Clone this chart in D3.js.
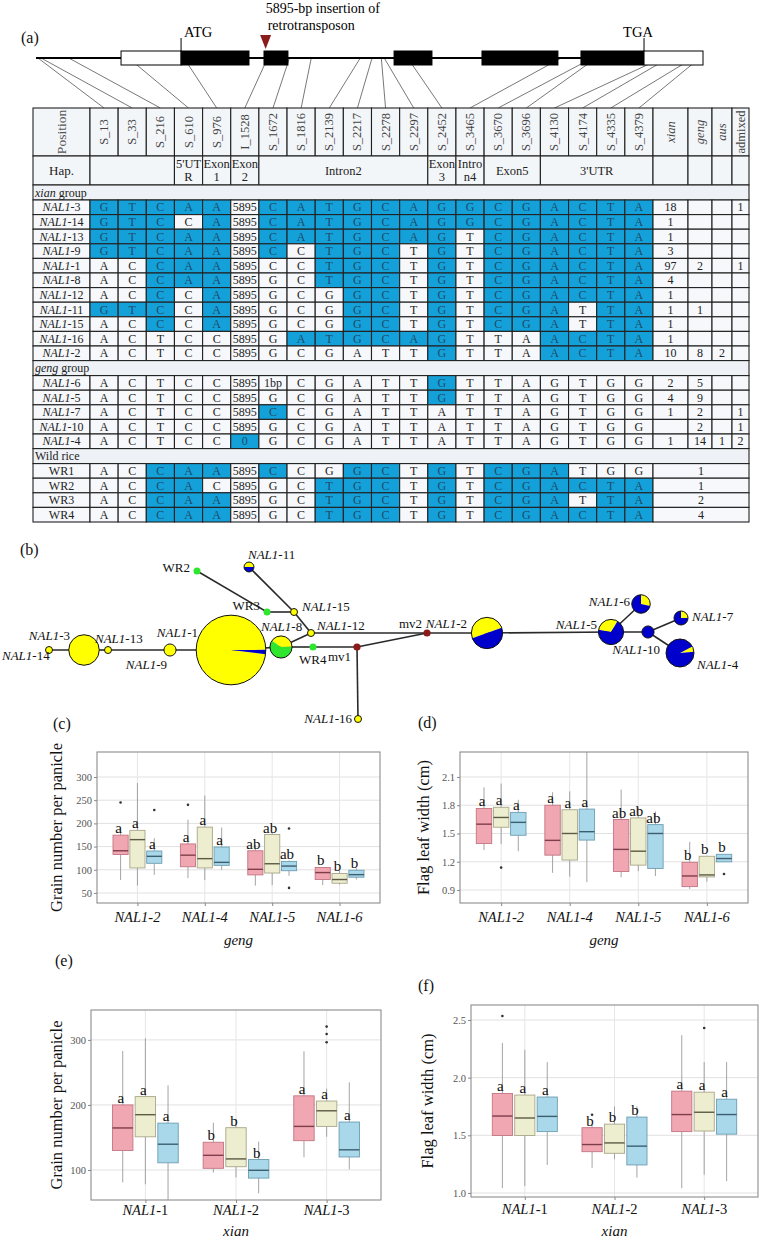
<!DOCTYPE html>
<html><head><meta charset="utf-8">
<script src="https://cdn.jsdelivr.net/npm/d3@7"></script>
<style>
body{margin:0;background:#fff}svg{display:block}
svg text{font-family:"Liberation Serif","DejaVu Serif","Times New Roman",serif !important}
</style>
</head><body>
<script>
// ================= DATA =================
// (a) gene structure (bp) and SNP positions
const geneLength = 4400;
const featureType = ["utr","exon","exon","exon","exon","exon","utr"];
const featureStart = [561, 957, 1504, 2362, 2942, 3595, 4011];
const featureEnd   = [957, 1405, 1662, 2612, 3443, 4011, 4400];
const atgPos = 957, tgaPos = 4011, insertionPos = 1528;

const positions = ["S_13","S_33","S_216","S_610","S_976","I_1528","S_1672","S_1816","S_2139","S_2217","S_2278",
                   "S_2297","S_2452","S_3465","S_3670","S_3696","S_4130","S_4174","S_4335","S_4379"];
const popColumns = ["xian","geng","aus","admixed"];
const regionNames = ["", "5'UT|R", "Exon|1", "Exon|2", "Intron2", "Exon|3", "Intro|n4", "Exon5", "3'UTR"];
const regionFirst = [0, 3, 4, 5, 6, 12, 13, 14, 16];
const regionLast  = [2, 3, 4, 5, 11, 12, 13, 15, 19];

const xianHaps = ["NAL1-3","NAL1-14","NAL1-13","NAL1-9","NAL1-1","NAL1-8","NAL1-12","NAL1-11","NAL1-15","NAL1-16","NAL1-2"];
const xianAlleles = [
 "G T C A A 5895 C A T G C A G G C G A C T A",
 "G T C C A 5895 C A T G C A G G C G A C T A",
 "G T C A A 5895 C A T G C A G T C G A C T A",
 "G T C A A 5895 C C T G C T G T C G A C T A",
 "A C C A A 5895 C C T G C T G T C G A C T A",
 "A C C A A 5895 G C T G C T G T C G A C T A",
 "A C C C A 5895 G C G G C T G T C G A C T A",
 "G T C C A 5895 G C G G C T G T C G A T T A",
 "A C C C A 5895 G C G G C T G T C G A T T A",
 "A C T C C 5895 G A T G C A G T T A A C T A",
 "A C T C C 5895 G C G A T T G T T A A C T A"];
const xianShade = [
 "11111011111111111111","11101011111111111111","11111011111110111111","11111010111010111111",
 "00111000111010111111","00111000111010111111","00101000011010111111","11101000011010111011",
 "00101000011010111011","00000001111110001111","00000000000010001111"];
const xianCounts = [[18,null,null,1],[1],[1],[3],[97,2,null,1],[4],[1],[1,1],[1],[1],[10,8,2]];

const gengHaps = ["NAL1-6","NAL1-5","NAL1-7","NAL1-10","NAL1-4"];
const gengAlleles = [
 "A C T C C 5895 1bp C G A T T G T T A G T G G",
 "A C T C C 5895 G C G A T T G T T A G T G G",
 "A C T C C 5895 C C G A T T A T T A G T G G",
 "A C T C C 5895 G C G A T T A T T A G T G G",
 "A C T C C 0 G C G A T T A T T A G T G G"];
const gengShade = ["00000000000010000000","00000000000010000000","00000010000000000000","00000000000000000000","00000100000000000000"];
const gengCounts = [[2,5],[4,9],[1,2,null,1],[null,2,null,1],[1,14,1,2]];

const wildHaps = ["WR1","WR2","WR3","WR4"];
const wildAlleles = [
 "A C C A A 5895 C C G G C T G T C G A T G G",
 "A C C A C 5895 G C T G C T G T C G A C T A",
 "A C C A A 5895 G C T G C T G T C G A T T A",
 "A C C A A 5895 G C T G C T G T C G A C T A"];
const wildShade = ["00111010011010111000","00110000111010111111","00111000111010111011","00111000111010111111"];
const wildCounts = [1, 1, 2, 4];

// (b) haplotype network: counts per group (yellow = xian, blue = geng/aus, green = wild rice)
const netNames  = ["NAL1-1","NAL1-2","NAL1-3","NAL1-4","NAL1-5","NAL1-6","NAL1-7","NAL1-8","NAL1-9","NAL1-10","NAL1-11",
                   "NAL1-12","NAL1-13","NAL1-14","NAL1-15","NAL1-16","WR2","WR3","WR4","mv1","mv2"];
const netXian   = [97,10,19,1,4,2,1,4,3,0,1,1,1,1,1,1,0,0,0,0,0];
const netGeng   = [2,10,0,15,9,5,3,0,0,3,1,0,0,0,0,0,0,0,0,0,0];
const netWild   = [0,0,0,0,0,0,0,6,0,0,0,0,0,0,0,0,1,1,1,0,0];
const netEdges  = [["NAL1-14","NAL1-3"],["NAL1-3","NAL1-13"],["NAL1-13","NAL1-9"],["NAL1-9","NAL1-1"],["NAL1-1","NAL1-8"],
  ["NAL1-8","WR4"],["WR4","mv1"],["mv1","NAL1-16"],["mv1","mv2"],["NAL1-8","NAL1-12"],["NAL1-12","mv2"],["NAL1-12","NAL1-15"],
  ["NAL1-15","WR3"],["NAL1-15","NAL1-11"],["WR3","WR2"],["mv2","NAL1-2"],["NAL1-2","NAL1-5"],["NAL1-5","NAL1-6"],
  ["NAL1-5","NAL1-10"],["NAL1-10","NAL1-7"],["NAL1-10","NAL1-4"]];

// (c)-(f) box plots: [lower whisker, Q1, median, Q3, upper whisker], three boxes per haplotype
const gengPlotHaps = ["NAL1-2","NAL1-4","NAL1-5","NAL1-6"];
const xianPlotHaps = ["NAL1-1","NAL1-2","NAL1-3"];
const gengGrain = [
 [78,133,141,174.6,191],[66,104,165,185,287],[89,114,129,140.5,168],
 [82,106.5,131.5,155.7,208],[78,104,124,192,260],[100,109.6,116,149,191],
 [66,89,101,141,154],[67,93,113,176,179],[87,98,108,118,120],
 [67,79,94,105,105],[68,71,79,92,97.5],[79,84,89.5,99,103]];
const gengGrainOut = [[245],[],[229],[240],[],[],[],[],[189,61],[],[],[]];
const gengGrainLetters = ["a","a","a","a","a","a","ab","ab","ab","b","b","b"];

const gengFlag = [
 [1.324,1.394,1.599,1.766,1.99],[1.387,1.566,1.670,1.778,2.03],[1.312,1.481,1.618,1.724,1.858],
 [1.082,1.27,1.427,1.80,1.938],[1.042,1.218,1.50,1.752,1.947],[0.983,1.43,1.519,1.759,2.4],
 [1.035,1.096,1.331,1.648,1.966],[1.10,1.164,1.312,1.665,1.778],[1.049,1.129,1.50,1.594,1.735],
 [0.912,0.936,1.049,1.194,1.411],[0.99,1.039,1.06,1.258,1.258],[1.199,1.199,1.234,1.279,1.279]];
const gengFlagOut = [[],[1.138],[],[],[],[],[],[],[],[],[],[1.07]];
const gengFlagLetters = ["a","a","a","a","a","a","ab","ab","ab","b","b","b"];

const xianGrain = [
 [81,130,164.6,200,283],[78,151,185,212.8,302.5],[54,111,139.6,172,230],
 [96,102.5,122.5,142.6,172.7],[88.5,105,117,165,178.7],[64,87.5,99.5,116,143.6],
 [119.5,145,167,214,282.5],[151,167,191,206,225],[101,120,131,173.7,234.8]];
const xianGrainOut = [[],[],[],[],[],[],[],[320.5,309,296.5],[]];
const xianGrainLetters = ["a","a","a","b","b","b","a","a","a"];

const xianFlag = [
 [1.041,1.498,1.667,1.863,2.30],[1.06,1.498,1.65,1.849,2.242],[1.243,1.532,1.664,1.832,2.135],
 [1.218,1.358,1.42,1.566,1.594],[1.293,1.344,1.434,1.597,1.75],[1.133,1.243,1.406,1.658,1.75],
 [1.041,1.532,1.68,1.883,2.368],[1.159,1.537,1.70,1.874,2.135],[1.103,1.51,1.68,1.813,2.135]];
const xianFlagOut = [[2.534],[],[],[1.678],[],[],[],[2.43],[]];
const xianFlagLetters = ["a","a","a","b","b","b","a","a","a"];

const grainTicks = [50,100,150,200,250,300];
const flagTicksGeng = [0.9,1.2,1.5,1.8,2.1];
const grainTicksXian = [100,200,300];
const flagTicksXian = [1.0,1.5,2.0,2.5];

// ================= DRAWING =================
const svg = d3.select("body").append("svg").attr("width",759).attr("height",1241).style("background","#fff");

function hapLabel(sel, name, allItalic){
  const m = /^(NAL1)(.*)$/.exec(name);
  if(m){
    sel.append("tspan").attr("font-style","italic").text(m[1]);
    sel.append("tspan").attr("font-style", allItalic ? "italic" : "normal").text(m[2]);
  } else sel.text(name);
}
function panelLabel(t,x,y){ svg.append("text").attr("x",x).attr("y",y).attr("font-size",16).attr("fill","#111").text(t); }

// ---------- (a) gene model ----------
panelLabel("(a)",21,43);
const gx = d3.scaleLinear().domain([0,geneLength]).range([36,703]);
const geneY = 58, boxTop = 51, boxBot = 65;

// table geometry
const tabL = 33, posR = 90, snpR = 653;
const popWidths = [35,24,20,17];
const popEdges = [snpR]; popWidths.forEach(w=>popEdges.push(popEdges[popEdges.length-1]+w));
const tabR = popEdges[popEdges.length-1];
const colX = d3.scaleBand().domain(positions).range([posR,snpR]);
const hdrTop = 108, hdr1 = 156, hdr2 = 185, groupH = 15, rowH = 14.6;

// connectors gene -> table
svg.append("g").selectAll("line").data(positions).join("line")
  .attr("x1",d=>gx(+d.split("_")[1])).attr("y1",geneY)
  .attr("x2",d=>colX(d)+colX.bandwidth()/2).attr("y2",hdrTop)
  .attr("stroke","#555").attr("stroke-width",0.8);

svg.append("line").attr("x1",gx(0)).attr("x2",gx(geneLength)).attr("y1",geneY).attr("y2",geneY)
  .attr("stroke","#000").attr("stroke-width",2);
svg.append("g").selectAll("rect").data(featureStart).join("rect")
  .attr("x",(d)=>gx(d)).attr("y",boxTop).attr("width",(d,i)=>gx(featureEnd[i])-gx(d)).attr("height",boxBot-boxTop)
  .attr("fill",(d,i)=>featureType[i]==="exon"?"#000":"#fff").attr("stroke","#000").attr("stroke-width",1);
[[atgPos,"ATG",3,"start"],[tgaPos,"TGA",-6,"middle"]].forEach(([p,t,dx,anc])=>{
  svg.append("line").attr("x1",gx(p)).attr("x2",gx(p)).attr("y1",38).attr("y2",boxTop).attr("stroke","#000").attr("stroke-width",1);
  svg.append("text").attr("x",gx(p)+dx).attr("y",37).attr("text-anchor",anc).attr("font-size",14.5).text(t);
});
const ix = gx(insertionPos)-2;
svg.append("path").attr("d",`M${ix-5.5},35L${ix+5.5},35L${ix},49Z`).attr("fill","#8b1c1c");
svg.append("text").attr("x",ix).attr("y",13).attr("font-size",14).text("5895-bp insertion of");
svg.append("text").attr("x",ix+2).attr("y",30).attr("font-size",14).text("retrotransposon");

// ---------- (a) table ----------
const T = svg.append("g").attr("font-size",12);
const BLUE = "#14a1da", LIGHT = "#f6f8fb", HDR = "#f3f6f9", GRP = "#eef2f7", LINE = "#222";
function cell(x,y,w,h,fill){ T.append("rect").attr("x",x).attr("y",y).attr("width",w).attr("height",h).attr("fill",fill).attr("stroke",LINE).attr("stroke-width",1.1); }
function ctext(x,y,t,opt={}){ const e=T.append("text").attr("x",x).attr("y",y).attr("text-anchor","middle").attr("dominant-baseline","central").attr("fill",opt.fill||"#222"); if(opt.size) e.attr("font-size",opt.size); if(opt.italic) e.attr("font-style","italic"); e.text(t); return e; }

cell(tabL,hdrTop,posR-tabL,hdr1-hdrTop,HDR);
T.append("text").attr("transform",`translate(${(tabL+posR)/2},${(hdrTop+hdr1)/2}) rotate(-90)`)
  .attr("text-anchor","middle").attr("dominant-baseline","central").attr("font-size",13.5).attr("fill","#555").text("Position");
positions.forEach(p=>{
  cell(colX(p),hdrTop,colX.bandwidth(),hdr1-hdrTop,HDR);
  T.append("text").attr("transform",`translate(${colX(p)+colX.bandwidth()/2},${(hdrTop+hdr1)/2}) rotate(-90)`)
    .attr("text-anchor","middle").attr("dominant-baseline","central").attr("font-size",12.5).attr("fill","#444").text(p);
});
popColumns.forEach((p,i)=>{
  cell(popEdges[i],hdrTop,popWidths[i],hdr1-hdrTop,HDR);
  T.append("text").attr("transform",`translate(${popEdges[i]+popWidths[i]/2},${(hdrTop+hdr1)/2}) rotate(-90)`)
    .attr("text-anchor","middle").attr("dominant-baseline","central").attr("font-size",12.5).attr("fill","#444")
    .attr("font-style",p==="admixed"?"normal":"italic").text(p);
});
cell(tabL,hdr1,posR-tabL,hdr2-hdr1,HDR);
ctext((tabL+posR)/2,(hdr1+hdr2)/2,"Hap.",{size:13});
regionNames.forEach((r,i)=>{
  const x0 = colX(positions[regionFirst[i]]), x1 = colX(positions[regionLast[i]])+colX.bandwidth();
  cell(x0,hdr1,x1-x0,hdr2-hdr1,HDR);
  const lines = r ? r.split("|") : [];
  lines.forEach((l,k)=>{
    const cy = lines.length===1 ? (hdr1+hdr2)/2 : hdr1+7.5+k*13.5;
    ctext((x0+x1)/2,cy,l,{size:12.5});
  });
});
popColumns.forEach((p,i)=>cell(popEdges[i],hdr1,popWidths[i],hdr2-hdr1,HDR));

let yCur = hdr2;
function groupRow(label, italicWord){
  cell(tabL,yCur,tabR-tabL,groupH,GRP);
  const t = T.append("text").attr("x",tabL+2).attr("y",yCur+groupH/2).attr("dominant-baseline","central").attr("fill","#222");
  if(italicWord){ t.append("tspan").attr("font-style","italic").text(italicWord); t.append("tspan").text(label); }
  else t.text(label);
  yCur += groupH;
}
function hapRows(names, alleles, shade, counts, merged){
  names.forEach((n,i)=>{
    cell(tabL,yCur,posR-tabL,rowH,LIGHT);
    hapLabel(ctext((tabL+posR)/2,yCur+rowH/2,""), n, false);
    const al = alleles[i].split(" ");
    positions.forEach((p,j)=>{
      const b = shade[i][j]==="1";
      cell(colX(p),yCur,colX.bandwidth(),rowH,b?BLUE:LIGHT);
      ctext(colX(p)+colX.bandwidth()/2,yCur+rowH/2,al[j],{fill:b?"#1f4a66":"#222"});
    });
    if(merged){
      cell(snpR,yCur,tabR-snpR,rowH,LIGHT);
      ctext((snpR+tabR)/2,yCur+rowH/2,counts[i]);
    } else {
      popColumns.forEach((p,k)=>{
        cell(popEdges[k],yCur,popWidths[k],rowH,LIGHT);
        const v = counts[i][k];
        if(v!=null) ctext(popEdges[k]+popWidths[k]/2,yCur+rowH/2,v);
      });
    }
    yCur += rowH;
  });
}
groupRow(" group","xian");
hapRows(xianHaps,xianAlleles,xianShade,xianCounts,false);
groupRow(" group","geng");
hapRows(gengHaps,gengAlleles,gengShade,gengCounts,false);
groupRow("Wild rice",null);
hapRows(wildHaps,wildAlleles,wildShade,wildCounts,true);

// ---------- (b) haplotype network ----------
panelLabel("(b)",20,555);
// layout of network nodes (drawing coordinates) and label offsets [dx, dy, anchor]
const netLayout = {
 "NAL1-14":[49,650,-47,10,"start"], "NAL1-3":[84,650,-14,-10,"end"], "NAL1-13":[108,650,-13,-7,"start"],
 "NAL1-9":[170,650,-3,19,"end"], "NAL1-1":[231,650,-33,-13,"end"], "NAL1-8":[281,647,-20,-16,"start"],
 "WR4":[313,647,-14,17,"start"], "mv1":[357,647,-6,14,"end"], "NAL1-16":[358,719,-6,4,"end"],
 "NAL1-12":[311,633,6,-3,"start"], "NAL1-15":[294,612,8,-1,"start"], "WR3":[267,612,-7,-2,"end"],
 "WR2":[197,571,-7,1,"end"], "NAL1-11":[249,567,-1,-8,"start"], "mv2":[427,633,-5,-5,"end"],
 "NAL1-2":[487,633,-20,-5,"end"], "NAL1-5":[611,632,-14,-3,"end"], "NAL1-6":[641,604,-11,2,"end"],
 "NAL1-10":[648,632,12,22,"end"], "NAL1-7":[681,618,11,3,"start"], "NAL1-4":[680,653,17,16,"start"]};
const pieRot = {"NAL1-1":97,"NAL1-2":-110,"NAL1-4":62,"NAL1-5":-80,"NAL1-6":0,"NAL1-7":0,"NAL1-8":-55,"NAL1-11":-90};
const rScale = d3.scaleSqrt().domain([0,100]).range([0,35]);
const NET = svg.append("g");
NET.selectAll("line").data(netEdges).join("line")
  .attr("x1",d=>netLayout[d[0]][0]).attr("y1",d=>netLayout[d[0]][1])
  .attr("x2",d=>netLayout[d[1]][0]).attr("y2",d=>netLayout[d[1]][1])
  .attr("stroke","#2a2a2a").attr("stroke-width",1.6);
const netColors = ["#ffff00","#0000cd","#2ee62e"];
netNames.forEach((n,i)=>{
  const [x,y] = netLayout[n];
  const g = NET.append("g").attr("transform",`translate(${x},${y})`);
  if(n.startsWith("mv")){ g.append("circle").attr("r",3.6).attr("fill","#8b1a1a"); return; }
  const vals = [netXian[i],netGeng[i],netWild[i]];
  const r = rScale(d3.sum(vals));
  if(n.startsWith("WR")){ g.append("circle").attr("r",r).attr("fill",netColors[2]); return; }
  const rot = (pieRot[n]||0)*Math.PI/180;
  const pie = d3.pie().sort(null).startAngle(rot).endAngle(rot+2*Math.PI);
  const arc = d3.arc().innerRadius(0).outerRadius(r);
  g.selectAll("path").data(pie(vals)).join("path").attr("d",arc).attr("fill",(d,k)=>netColors[k]);
  g.append("circle").attr("r",r).attr("fill","none").attr("stroke","#111").attr("stroke-width",1);
});
netNames.forEach(n=>{
  const [x,y,dx,dy,anc] = netLayout[n];
  const t = NET.append("text").attr("x",x+dx).attr("y",y+dy).attr("text-anchor",anc).attr("font-size",13).attr("fill","#111");
  hapLabel(t,n,false);
});

// ---------- (c)-(f) box plots ----------
const boxFill = ["#f0a7b1","#ededcf","#a9d8ea"];
const boxStroke = ["#c27584","#a8a689","#6d9db3"];
const boxMed = ["#7e3d4a","#5c5a45","#3c5f70"];
let clipN = 0;
function drawBoxPanel(o){
  const g = svg.append("g");
  const x = d3.scalePoint().domain(o.cats).range([o.left,o.right]).padding(0.6);
  const y = d3.scaleLinear().domain(o.domain).range([o.bottom,o.top]);
  const step = x.step();
  const id = "clip"+(clipN++);
  svg.append("clipPath").attr("id",id).append("rect").attr("x",o.left).attr("y",o.top).attr("width",o.right-o.left).attr("height",o.bottom-o.top);
  g.append("rect").attr("x",o.left).attr("y",o.top).attr("width",o.right-o.left).attr("height",o.bottom-o.top).attr("fill","#fff");
  g.selectAll(".hg").data(o.ticks).join("line").attr("x1",o.left).attr("x2",o.right).attr("y1",d=>y(d)).attr("y2",d=>y(d)).attr("stroke","#e1e1e1").attr("stroke-width",1);
  g.selectAll(".vg").data(o.cats).join("line").attr("y1",o.top).attr("y2",o.bottom).attr("x1",d=>x(d)).attr("x2",d=>x(d)).attr("stroke","#e6e6e6").attr("stroke-width",1);
  const body = g.append("g").attr("clip-path",`url(#${id})`);
  const bw = step*0.225;
  o.cats.forEach((c,i)=>{
    for(let j=0;j<3;j++){
      const k = i*3+j, s = o.stats[k];
      const cx = x(c)+(j-1)*step*0.25;
      body.append("line").attr("x1",cx).attr("x2",cx).attr("y1",y(s[0])).attr("y2",y(s[1])).attr("stroke","#9a9a9a").attr("stroke-width",0.9);
      body.append("line").attr("x1",cx).attr("x2",cx).attr("y1",y(s[3])).attr("y2",y(s[4])).attr("stroke","#9a9a9a").attr("stroke-width",0.9);
      body.append("rect").attr("x",cx-bw/2).attr("y",y(s[3])).attr("width",bw).attr("height",y(s[1])-y(s[3]))
        .attr("fill",boxFill[j]).attr("stroke",boxStroke[j]).attr("stroke-width",0.9);
      body.append("line").attr("x1",cx-bw/2).attr("x2",cx+bw/2).attr("y1",y(s[2])).attr("y2",y(s[2])).attr("stroke",boxMed[j]).attr("stroke-width",1.4);
      (o.out[k]||[]).forEach(v=>body.append("circle").attr("cx",cx).attr("cy",y(v)).attr("r",1.3).attr("fill","#333"));
      g.append("text").attr("x",cx-2).attr("y",y(s[3])-2).attr("text-anchor","middle").attr("font-size",15).attr("fill","#111").text(o.letters[k]);
    }
  });
  g.append("rect").attr("x",o.left).attr("y",o.top).attr("width",o.right-o.left).attr("height",o.bottom-o.top)
    .attr("fill","none").attr("stroke","#8c8c8c").attr("stroke-width",1.1);
  const ya = g.append("g").attr("transform",`translate(${o.left},0)`)
    .call(d3.axisLeft(y).tickValues(o.ticks).tickFormat(o.fmt).tickSize(3).tickPadding(2));
  ya.select(".domain").remove();
  ya.selectAll("line").attr("stroke","#888");
  ya.selectAll("text").attr("fill","#555").attr("font-size",10.5);
  const xa = g.append("g").attr("transform",`translate(0,${o.bottom})`).call(d3.axisBottom(x).tickSize(3).tickFormat(""));
  xa.select(".domain").remove();
  xa.selectAll("line").attr("stroke","#888");
  o.cats.forEach(c=>{
    const t = g.append("text").attr("x",x(c)).attr("y",o.bottom+o.labelGap).attr("text-anchor","middle").attr("font-size",14.5).attr("fill","#111");
    hapLabel(t,c,o.allItalic);
  });
  g.append("text").attr("x",(o.left+o.right)/2).attr("y",o.xTitleY).attr("text-anchor","middle").attr("font-size",15)
    .attr("font-style","italic").attr("fill","#111").text(o.xTitle);
  g.append("text").attr("transform",`translate(${o.yTitleX},${(o.top+o.bottom)/2}) rotate(-90)`).attr("text-anchor","middle")
    .attr("font-size",16.5).attr("fill","#111").text(o.yTitle);
}

panelLabel("(c)",53,729);
drawBoxPanel({left:97,right:380,top:752,bottom:903,domain:[28.4,353.9],ticks:grainTicks,fmt:d3.format("d"),
  cats:gengPlotHaps,stats:gengGrain,out:gengGrainOut,letters:gengGrainLetters,allItalic:true,labelGap:19,
  xTitle:"geng",xTitleY:945,yTitle:"Grain number per panicle",yTitleX:62});
panelLabel("(d)",418,728);
drawBoxPanel({left:460,right:748,top:752,bottom:903,domain:[0.762,2.365],ticks:flagTicksGeng,fmt:d3.format(".1f"),
  cats:gengPlotHaps,stats:gengFlag,out:gengFlagOut,letters:gengFlagLetters,allItalic:true,labelGap:19,
  xTitle:"geng",xTitleY:945,yTitle:"Flag leaf width (cm)",yTitleX:429});
panelLabel("(e)",55,966);
drawBoxPanel({left:91,right:381,top:1010,bottom:1200,domain:[53.8,346],ticks:grainTicksXian,fmt:d3.format("d"),
  cats:xianPlotHaps,stats:xianGrain,out:xianGrainOut,letters:xianGrainLetters,allItalic:false,labelGap:15,
  xTitle:"xian",xTitleY:1236,yTitle:"Grain number per panicle",yTitleX:62});
panelLabel("(f)",418,991);
drawBoxPanel({left:471,right:758,top:1005,bottom:1197,domain:[0.965,2.63],ticks:flagTicksXian,fmt:d3.format(".1f"),
  cats:xianPlotHaps,stats:xianFlag,out:xianFlagOut,letters:xianFlagLetters,allItalic:false,labelGap:17,
  xTitle:"xian",xTitleY:1236,yTitle:"Flag leaf width (cm)",yTitleX:433});
</script>
</body></html>
